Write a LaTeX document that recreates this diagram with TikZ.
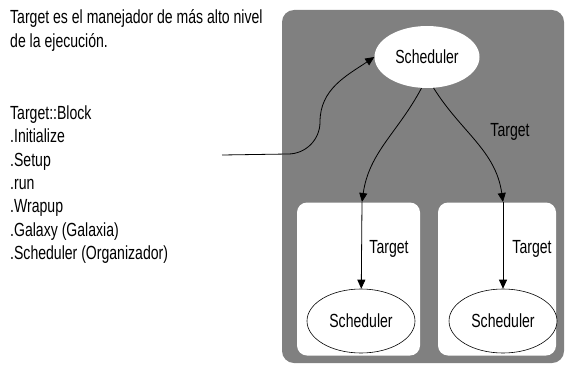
\documentclass[tikz,border=0pt]{standalone}
\usepackage{fontspec}
\setmainfont[FakeStretch=0.74]{Liberation Sans}
\usetikzlibrary{shapes.geometric,arrows.meta}

\begin{document}
\begin{tikzpicture}[x=1pt, y=-1pt, font=\fontsize{19}{22}\selectfont, >={Triangle[length=9pt,width=8pt]}]
 \useasboundingbox (0,0) rectangle (569,369);
 % frames
 \node[fill=black!50, rounded corners=12pt, minimum width=282pt, minimum height=353pt] (frame) at (423,186.5) {};
 \node[fill=white, rounded corners=10pt, minimum width=123pt, minimum height=153pt] (lbox) at (358.5,279) {};
 \node[fill=white, rounded corners=10pt, minimum width=118pt, minimum height=153pt] (rbox) at (497,279) {};

 % text on the left
 \begin{scope}[every node/.append style={anchor=base west, inner sep=0pt}]
    \node (intro1) at (10,24) {Target es el manejador de más alto nivel};
    \node (intro2) at (10,48) {de la ejecución.};
    \node (block) at (10,119) {Target::Block};
    \node (init) at (10,142) {.Initialize};
    \node (setup) at (10,166) {.Setup};
    \node (run) at (10,189) {.run};
    \node (wrap) at (10,212) {.Wrapup};
    \node (galaxy) at (10,236) {.Galaxy (Galaxia)};
    \node (sch) at (10,259) {.Scheduler (Organizador)};
 \end{scope}

 \begin{scope}[every node/.append style={ellipse, fill=white, inner sep=0pt}]
    \node[minimum width=105pt, minimum height=62pt] (sched) at (427,57) {Scheduler};
    \node[draw=black, line width=0.6pt, minimum width=108pt, minimum height=64pt] (lsched) at (361,321) {Scheduler};
    \node[draw=black, line width=0.6pt, minimum width=108pt, minimum height=64pt] (rsched) at (503,321) {Scheduler};
 \end{scope}

 \node (tlab) at (510,132) {Target};
 \node (llab) at (389,249) {Target};
 \node (rlab) at (532,249) {Target};

 \coordinate (codeend) at (222,155);
 \coordinate (ljoin) at (362,202);
 \coordinate (rjoin) at (503,202);

 \begin{scope}[every path/.style={->, line width=0.8pt}]
    \draw (codeend) -- (288,154) to[out=0, in=-90] (320,122) to[out=90, in=214] (sched.west);
    \draw (sched.-100) to[out=-118, in=82] (ljoin);
    \draw (sched.-78) to[out=-58, in=98] (rjoin);
    \draw (ljoin) -- (lsched);
    \draw (rjoin) -- (rsched);
 \end{scope}
\end{tikzpicture}
\end{document}
